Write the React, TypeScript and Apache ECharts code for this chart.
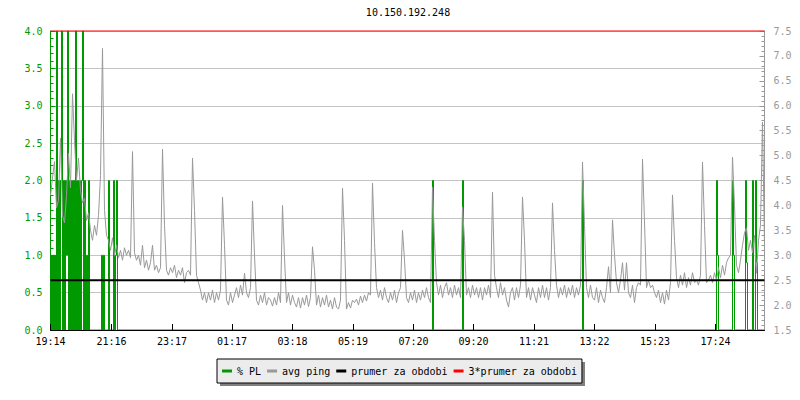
import React, { useEffect, useRef } from 'react';
import * as echarts from 'echarts';

const TITLE = '10.150.192.248';
const TOTAL_MIN = 1428;
const xTickMinutes = [0, 122, 243, 363, 484, 605, 726, 846, 967, 1088, 1209, 1330];
const xTickLabels = ['19:14', '21:16', '23:17', '01:17', '03:18', '05:19', '07:20', '09:20', '11:21', '13:22', '15:23', '17:24'];

const PING_STEP = 4; // minutes between avg ping samples
const avgPing = [
  4.2, 4.55, 4.88, 3.95, 4.1, 5.35, 3.8, 3.65, 4.2, 5.05,
  4.35, 6.24, 5.3, 4.5, 4.95, 4.3, 4.05, 4.15, 3.7, 3.85,
  3.5, 3.3, 3.6, 3.4, 3.8, 4.6, 7.15, 3.9, 3.4, 3.3,
  3.1, 3.35, 3.0, 3.2, 2.95, 3.1, 2.9, 3.15, 3.0, 3.1,
  2.95, 5.08, 3.05, 2.9, 3.0, 2.8, 3.2, 2.75, 2.9, 2.7,
  2.85, 3.2, 2.7, 2.8, 2.65, 2.75, 5.13, 3.6, 2.7, 2.6,
  2.75, 2.65, 2.8, 2.55, 2.7, 2.6, 2.75, 2.45, 2.65, 2.7,
  2.6, 4.95, 3.9, 2.6, 2.45, 2.3, 2.1, 2.25, 2.05, 2.25,
  2.1, 2.3, 2.05, 2.25, 2.1, 2.3, 4.17, 3.2, 2.1, 2.0,
  2.25, 2.05, 2.2, 2.35, 2.15, 2.4, 2.2, 2.64, 2.25, 2.15,
  2.35, 4.09, 3.0, 2.1, 2.0, 2.2, 2.05, 2.25, 2.0, 2.15,
  2.1, 1.98, 2.15, 2.0, 2.25, 2.05, 4.0, 2.95, 2.05, 2.25,
  2.0, 2.2, 2.05, 1.96, 2.15, 1.94, 2.15, 2.0, 2.2, 1.97,
  2.15, 3.17, 2.7, 2.0, 2.2, 1.96, 2.15, 2.0, 2.2, 1.96,
  2.1, 1.92, 2.15, 1.96, 1.92, 2.1, 4.35, 3.3, 1.92, 2.05,
  1.94, 2.1, 2.05, 2.12, 2.0, 2.18, 2.05, 2.2, 2.08, 2.25,
  2.2, 4.45, 3.25, 2.35, 2.15, 2.3, 2.1, 2.35, 2.15, 2.05,
  2.25, 2.1, 2.3, 2.05, 2.25, 2.35, 3.5, 2.9, 2.15, 2.05,
  2.25, 2.1, 2.3, 2.05, 2.25, 2.1, 2.3, 2.15, 2.35, 2.15,
  2.05, 4.37, 3.3, 2.45, 2.2, 2.4, 2.15, 2.35, 2.45, 2.2,
  2.35, 2.15, 2.4, 2.2, 2.35, 2.15, 3.97, 3.3, 2.2, 2.35,
  2.15, 2.4, 2.2, 2.35, 2.15, 2.35, 2.1, 2.35, 2.2, 2.4,
  2.15, 4.27, 2.6, 2.35, 2.15, 2.45, 2.2, 2.35, 2.1, 1.96,
  2.25, 2.35, 2.1, 2.35, 2.15, 2.4, 4.17, 3.3, 2.15, 2.35,
  2.1, 2.35, 2.2, 2.05, 2.35, 2.15, 2.4, 2.15, 2.35, 2.1,
  2.35, 4.05, 3.1, 2.4, 2.15, 2.35, 2.2, 2.4, 2.15, 2.35,
  2.2, 2.4, 2.15, 2.35, 2.2, 2.4, 4.87, 3.6, 2.35, 2.15,
  2.4, 2.15, 2.1, 2.35, 2.05, 2.3, 2.15, 2.05, 2.35, 2.77,
  2.25, 3.71, 3.0, 2.45, 2.25, 2.5, 2.85, 2.3, 2.85, 2.25,
  2.15, 2.4, 2.05, 2.35, 2.45, 2.4, 4.93, 3.67, 2.35, 2.5,
  2.35, 2.4, 2.25, 2.15, 2.3, 2.05, 2.25, 2.02, 2.3, 2.1,
  2.45, 4.21, 3.3, 2.55, 2.35, 2.6, 2.4, 2.65, 2.35, 2.55,
  2.4, 2.65, 2.45, 2.5, 2.4, 2.6, 4.87, 3.6, 2.45, 2.5,
  2.6, 2.45, 2.65, 2.5, 2.75, 2.55, 2.8, 2.6, 2.85, 2.95,
  3.0, 4.97, 4.0, 2.8, 2.65, 2.9, 3.2, 3.45, 3.55, 3.1,
  3.3, 3.05, 3.4, 2.64, 3.3, 3.6, 5.67, 3.2,
];

const PL_STEP = 2; // minutes between packet-loss samples
const plEarly = [
  1, 0, 1, 0, 1, 0, 4, 0, 2, 0,
  2, 4, 0, 2, 0, 2, 1, 4, 0, 2,
  0, 2, 0, 2, 0, 4, 0, 2, 0, 2,
  0, 2, 4, 0, 2, 0, 1, 0, 2, 0,
  0, 0, 0, 0, 0, 0, 0, 0, 0, 0,
  0, 1, 0, 1, 0, 0, 0, 0, 2, 0,
  0, 0, 0, 2, 0, 1, 2, 0,
];
const plSpikeMinutes = [764, 824, 1064, 1332, 1334, 1364, 1366, 1390, 1392, 1404, 1410, 1412];
const plSpikeValues = [2, 2, 2, 2, 1, 2, 1, 2, 0.9, 2, 2, 0.9];

const prumer = 2.5;
const prumer3 = 7.5;

const FONT = '"DejaVu Sans Mono", "Liberation Mono", monospace';
const GREEN = '#009900';
const GREY = '#999999';

export default function App() {
  const ref = useRef<HTMLDivElement>(null);

  useEffect(() => {
    document.body.style.margin = '0';
    if (!ref.current) return;
    const chart = echarts.init(ref.current, undefined, { renderer: 'svg' });

    const pingData = avgPing.map((v, i) => [i * PING_STEP, v]);
    const plData: number[][] = plEarly.map((v, i) => [i * PL_STEP, v]);
    for (let k = 0; k < plSpikeMinutes.length; k++) {
      const m = plSpikeMinutes[k];
      plData.push([m, plSpikeValues[k]]);
      if (plSpikeMinutes[k + 1] !== m + PL_STEP) plData.push([m + PL_STEP, 0]);
    }
    plData.push([TOTAL_MIN, 0]);

    chart.setOption({
      animation: false,
      backgroundColor: '#ffffff',
      textStyle: { fontFamily: FONT },
      grid: { left: 50.5, right: 35.5, top: 31, bottom: 70, containLabel: false },
      graphic: [
        {
          type: 'text',
          x: 408,
          y: 7,
          z: 1,
          style: {
            text: TITLE,
            font: `10px ${FONT}`,
            fill: '#000',
            textAlign: 'center',
            align: 'center',
            textVerticalAlign: 'top',
            verticalAlign: 'top',
          },
        },
        {
          type: 'rect',
          z: 1,
          shape: { x: 220, y: 362, width: 365, height: 24 },
          style: { fill: '#808080' },
        },
      ],
      legend: {
        left: 217,
        top: 359,
        z: 10,
        orient: 'horizontal',
        icon: 'rect',
        itemWidth: 10,
        itemHeight: 3,
        itemGap: 6,
        padding: [7, 5, 7, 5],
        backgroundColor: '#ececec',
        borderColor: '#000',
        borderWidth: 1,
        textStyle: { color: '#000', fontFamily: FONT, fontSize: 10 },
        selectedMode: false,
        data: ['% PL', 'avg ping', 'prumer za obdobi', '3*prumer za obdobi'],
      },
      xAxis: {
        type: 'value',
        min: 0,
        max: TOTAL_MIN,
        z: 10,
        axisLine: { show: true, onZero: false, lineStyle: { color: '#000', width: 1 } },
        axisTick: { show: true, inside: true, length: 6, customValues: xTickMinutes, lineStyle: { color: '#000' } },
        axisLabel: {
          customValues: xTickMinutes,
          formatter: (v: number) => {
            const i = xTickMinutes.indexOf(Math.round(v));
            return i >= 0 ? xTickLabels[i] : '';
          },
          color: '#000',
          fontFamily: FONT,
          fontSize: 10,
          margin: 6,
        },
        splitLine: { show: false },
      },
      yAxis: [
        {
          type: 'value',
          min: 0,
          max: 4,
          interval: 0.5,
          position: 'left',
          axisLine: { show: true, onZero: false, lineStyle: { color: GREEN } },
          axisTick: { show: true, inside: true, length: 5, lineStyle: { color: GREEN } },
          minorTick: { show: true, splitNumber: 5, length: 3, lineStyle: { color: GREEN } },
          axisLabel: {
            color: GREEN,
            fontFamily: FONT,
            fontSize: 10,
            margin: 8,
            formatter: (v: number) => v.toFixed(1),
          },
          splitLine: { show: true, lineStyle: { color: '#c4c4c4', width: 1 } },
        },
        {
          type: 'value',
          min: 1.5,
          max: 7.5,
          interval: 0.5,
          position: 'right',
          axisLine: { show: true, onZero: false, lineStyle: { color: GREY } },
          axisTick: { show: true, inside: true, length: 5, lineStyle: { color: GREY } },
          minorTick: { show: true, splitNumber: 5, length: 3, lineStyle: { color: GREY } },
          axisLabel: {
            color: GREY,
            fontFamily: FONT,
            fontSize: 10,
            margin: 9,
            formatter: (v: number) => v.toFixed(1),
          },
          splitLine: { show: false },
        },
      ],
      series: [
        {
          name: '% PL',
          type: 'line',
          yAxisIndex: 0,
          step: 'end',
          data: plData,
          symbol: 'none',
          color: GREEN,
          itemStyle: { color: GREEN },
          lineStyle: { color: GREEN, width: 1 },
          z: 2,
        },
        {
          name: 'avg ping',
          type: 'line',
          yAxisIndex: 1,
          data: pingData,
          symbol: 'none',
          color: GREY,
          itemStyle: { color: GREY },
          lineStyle: { color: GREY, width: 1 },
          z: 3,
        },
        {
          name: 'prumer za obdobi',
          type: 'line',
          yAxisIndex: 1,
          data: [[0, prumer], [TOTAL_MIN, prumer]],
          symbol: 'none',
          clip: false,
          color: '#000',
          itemStyle: { color: '#000' },
          lineStyle: { color: '#000', width: 2 },
          z: 4,
        },
        {
          name: '3*prumer za obdobi',
          type: 'line',
          yAxisIndex: 1,
          data: [[0, prumer3], [TOTAL_MIN, prumer3]],
          symbol: 'none',
          clip: false,
          color: '#ff0000',
          itemStyle: { color: '#ff0000' },
          lineStyle: { color: '#ff0000', width: 1 },
          z: 4,
        },
      ],
    });

    return () => chart.dispose();
  }, []);

  return <div ref={ref} style={{ width: 800, height: 400 }} />;
}
